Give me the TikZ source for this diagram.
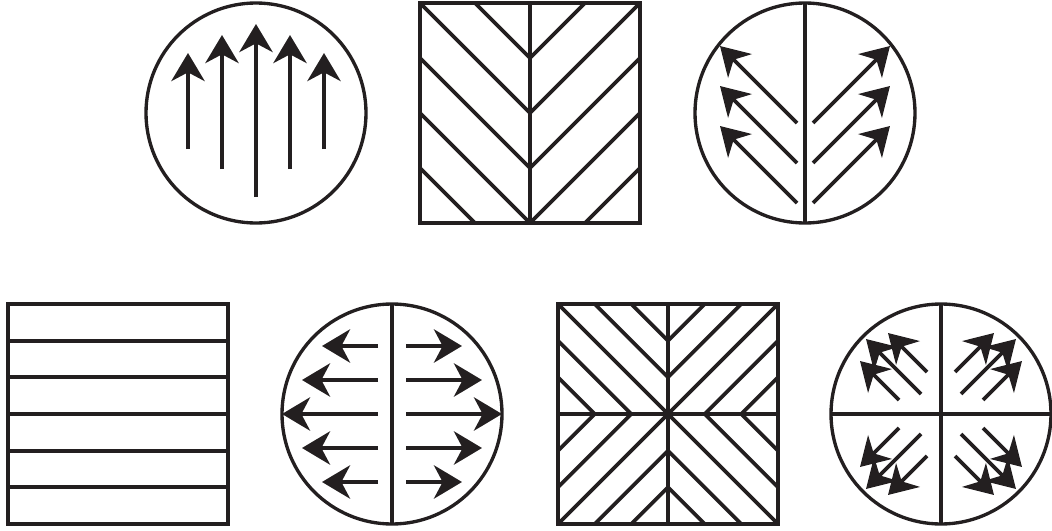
\documentclass[tikz,border=0pt]{standalone}
\usetikzlibrary{arrows.meta}
\definecolor{ink}{HTML}{231F20}
\tikzset{
  rimline/.style={ink, line width=1.9pt},
  boxline/.style={ink, line width=2.3pt},
  hatch/.style={ink, line width=2.1pt},
  flow/.style={ink, line width=2.1pt,
    -{Stealth[length=16pt,width=19pt,inset=5pt]}}
}
\begin{document}
\begin{tikzpicture}[x=0.02cm, y=-0.02cm]

\def\R{110}     % circle radius
\def\H{110}     % square half-side
\def\topY{113}  % centre line of top row
\def\botY{414}  % centre line of bottom row

\useasboundingbox (0,0) rectangle (1052,531);

%--- Top row ---

% Parallel upward arrows
\begin{scope}[shift={(256,\topY)}]
  \draw[rimline] (0,0) circle (\R);
  \foreach \x/\tail/\tip in {-68/36/-60, -34/56/-78, 0/84/-89, 34/56/-78, 68/36/-60}
    \draw[flow] (\x,\tail) -- (\x,\tip);
\end{scope}

% Herringbone square
\begin{scope}[shift={(530,\topY)}]
  \foreach \s in {1,-1} {
    \begin{scope}[xscale=\s]
      \clip (-\H,-\H) rectangle (0,\H);
      \foreach \k in {-55,0,55,110,165}
        \draw[hatch] (-330,\k-330) -- (0,\k);
    \end{scope}
  }
  \draw[hatch] (0,-\H) -- (0,\H);
  \draw[boxline] (-\H,-\H) rectangle (\H,\H);
\end{scope}

% Split circle, diagonal arrows
\begin{scope}[shift={(805,\topY)}]
  \draw[rimline] (0,0) circle (\R);
  \draw[rimline] (0,-\R) -- (0,\R);
  \foreach \s in {1,-1} {
    \begin{scope}[xscale=\s]
      \foreach \y in {10,50,90}
        \draw[flow] (-8,\y) -- ++(-77,-77);
    \end{scope}
  }
\end{scope}

%--- Bottom row ---

% Striped square
\begin{scope}[shift={(118,\botY)}]
  \foreach \i in {-2,...,2}
    \draw[boxline] (-\H,\i*36.67) -- (\H,\i*36.67);
  \draw[boxline] (-\H,-\H) rectangle (\H,\H);
\end{scope}

% Split circle, outward arrows
\begin{scope}[shift={(392,\botY)}]
  \draw[rimline] (0,0) circle (\R);
  \draw[rimline] (0,-\R) -- (0,\R);
  \foreach \s in {1,-1} {
    \begin{scope}[xscale=\s]
      \foreach \y/\tip in {-68/70, -34/90, 0/110, 34/90, 68/70}
        \draw[flow] (14,\y) -- (\tip,\y);
    \end{scope}
  }
\end{scope}

% Four-quadrant hatched square
\begin{scope}[shift={(668,\botY)}]
  \foreach \sx/\sy in {1/1, 1/-1, -1/1, -1/-1} {
    \begin{scope}[xscale=\sx, yscale=\sy]
      \clip (0,0) rectangle (\H,\H);
      \foreach \k in {-73.33,-36.67,0,36.67,73.33}
        \draw[hatch] (-\H,\k-\H) -- (2*\H,\k+2*\H);
    \end{scope}
  }
  \draw[hatch] (0,-\H) -- (0,\H);
  \draw[hatch] (-\H,0) -- (\H,0);
  \draw[boxline] (-\H,-\H) rectangle (\H,\H);
\end{scope}

% Quartered circle, clustered arrows
\begin{scope}[shift={(941,\botY)}]
  \draw[rimline] (0,0) circle (\R);
  \draw[rimline] (0,-\R) -- (0,\R);
  \draw[rimline] (-\R,0) -- (\R,0);
  \foreach \sx/\sy in {1/1, 1/-1, -1/1, -1/-1} {
    \begin{scope}[xscale=\sx, yscale=\sy]
      \draw[flow] (-42,-14) -- (-81,-53);
      \draw[flow] (-20,-20) -- (-75,-75);
      \draw[flow] (-14,-42) -- (-53,-81);
    \end{scope}
  }
\end{scope}

\end{tikzpicture}
\end{document}
